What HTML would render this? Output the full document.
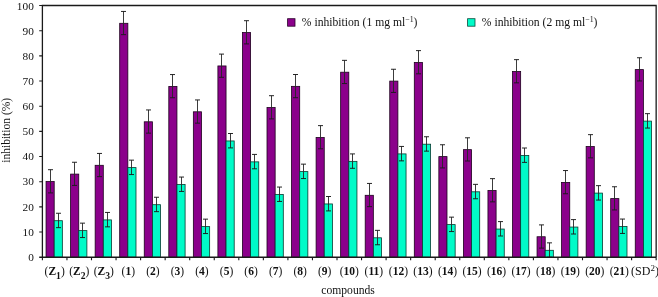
<!DOCTYPE html>
<html><head><meta charset="utf-8"><title>chart</title>
<style>
html,body{margin:0;padding:0;background:#fff}
svg{display:block;will-change:transform;opacity:0.999}
text{font-family:"Liberation Serif",serif;fill:#111}
</style></head><body>
<svg width="658" height="297" viewBox="0 0 658 297">
<rect width="658" height="297" fill="#fff"/>
<rect x="46.05" y="181.55" width="8.15" height="75.70" fill="#8b008b" stroke="#1c001c" stroke-width="0.8"/>
<rect x="54.20" y="220.70" width="8.15" height="36.55" fill="#00fbc8" stroke="#083a30" stroke-width="0.8"/>
<path d="M50.50 169.70V192.90" stroke="#262626" stroke-width="0.9" fill="none"/><path d="M48.00 169.70H53.00M48.00 192.90H53.00" stroke="#1a1a1a" stroke-width="0.95" fill="none"/>
<path d="M58.50 213.25V227.65" stroke="#262626" stroke-width="0.9" fill="none"/><path d="M56.00 213.25H61.00M56.00 227.65H61.00" stroke="#1a1a1a" stroke-width="0.95" fill="none"/>
<rect x="70.60" y="174.10" width="8.15" height="83.15" fill="#8b008b" stroke="#1c001c" stroke-width="0.8"/>
<rect x="78.75" y="230.60" width="8.15" height="26.65" fill="#00fbc8" stroke="#083a30" stroke-width="0.8"/>
<path d="M74.50 162.25V185.45" stroke="#262626" stroke-width="0.9" fill="none"/><path d="M72.00 162.25H77.00M72.00 185.45H77.00" stroke="#1a1a1a" stroke-width="0.95" fill="none"/>
<path d="M82.50 223.15V237.55" stroke="#262626" stroke-width="0.9" fill="none"/><path d="M80.00 223.15H85.00M80.00 237.55H85.00" stroke="#1a1a1a" stroke-width="0.95" fill="none"/>
<rect x="95.15" y="165.30" width="8.15" height="91.95" fill="#8b008b" stroke="#1c001c" stroke-width="0.8"/>
<rect x="103.30" y="219.90" width="8.15" height="37.35" fill="#00fbc8" stroke="#083a30" stroke-width="0.8"/>
<path d="M99.50 153.45V176.65" stroke="#262626" stroke-width="0.9" fill="none"/><path d="M97.00 153.45H102.00M97.00 176.65H102.00" stroke="#1a1a1a" stroke-width="0.95" fill="none"/>
<path d="M107.50 212.45V226.85" stroke="#262626" stroke-width="0.9" fill="none"/><path d="M105.00 212.45H110.00M105.00 226.85H110.00" stroke="#1a1a1a" stroke-width="0.95" fill="none"/>
<rect x="119.70" y="23.30" width="8.15" height="233.95" fill="#8b008b" stroke="#1c001c" stroke-width="0.8"/>
<rect x="127.85" y="167.60" width="8.15" height="89.65" fill="#00fbc8" stroke="#083a30" stroke-width="0.8"/>
<path d="M123.50 11.45V34.65" stroke="#262626" stroke-width="0.9" fill="none"/><path d="M121.00 11.45H126.00M121.00 34.65H126.00" stroke="#1a1a1a" stroke-width="0.95" fill="none"/>
<path d="M131.50 160.15V174.55" stroke="#262626" stroke-width="0.9" fill="none"/><path d="M129.00 160.15H134.00M129.00 174.55H134.00" stroke="#1a1a1a" stroke-width="0.95" fill="none"/>
<rect x="144.25" y="121.80" width="8.15" height="135.45" fill="#8b008b" stroke="#1c001c" stroke-width="0.8"/>
<rect x="152.40" y="204.70" width="8.15" height="52.55" fill="#00fbc8" stroke="#083a30" stroke-width="0.8"/>
<path d="M148.50 109.95V133.15" stroke="#262626" stroke-width="0.9" fill="none"/><path d="M146.00 109.95H151.00M146.00 133.15H151.00" stroke="#1a1a1a" stroke-width="0.95" fill="none"/>
<path d="M156.50 197.25V211.65" stroke="#262626" stroke-width="0.9" fill="none"/><path d="M154.00 197.25H159.00M154.00 211.65H159.00" stroke="#1a1a1a" stroke-width="0.95" fill="none"/>
<rect x="168.80" y="86.40" width="8.15" height="170.85" fill="#8b008b" stroke="#1c001c" stroke-width="0.8"/>
<rect x="176.95" y="184.50" width="8.15" height="72.75" fill="#00fbc8" stroke="#083a30" stroke-width="0.8"/>
<path d="M172.50 74.55V97.75" stroke="#262626" stroke-width="0.9" fill="none"/><path d="M170.00 74.55H175.00M170.00 97.75H175.00" stroke="#1a1a1a" stroke-width="0.95" fill="none"/>
<path d="M181.50 177.05V191.45" stroke="#262626" stroke-width="0.9" fill="none"/><path d="M179.00 177.05H184.00M179.00 191.45H184.00" stroke="#1a1a1a" stroke-width="0.95" fill="none"/>
<rect x="193.35" y="111.80" width="8.15" height="145.45" fill="#8b008b" stroke="#1c001c" stroke-width="0.8"/>
<rect x="201.50" y="226.60" width="8.15" height="30.65" fill="#00fbc8" stroke="#083a30" stroke-width="0.8"/>
<path d="M197.50 99.95V123.15" stroke="#262626" stroke-width="0.9" fill="none"/><path d="M195.00 99.95H200.00M195.00 123.15H200.00" stroke="#1a1a1a" stroke-width="0.95" fill="none"/>
<path d="M205.50 219.15V233.55" stroke="#262626" stroke-width="0.9" fill="none"/><path d="M203.00 219.15H208.00M203.00 233.55H208.00" stroke="#1a1a1a" stroke-width="0.95" fill="none"/>
<rect x="217.90" y="65.95" width="8.15" height="191.30" fill="#8b008b" stroke="#1c001c" stroke-width="0.8"/>
<rect x="226.05" y="140.95" width="8.15" height="116.30" fill="#00fbc8" stroke="#083a30" stroke-width="0.8"/>
<path d="M221.50 54.10V77.30" stroke="#262626" stroke-width="0.9" fill="none"/><path d="M219.00 54.10H224.00M219.00 77.30H224.00" stroke="#1a1a1a" stroke-width="0.95" fill="none"/>
<path d="M230.50 133.50V147.90" stroke="#262626" stroke-width="0.9" fill="none"/><path d="M228.00 133.50H233.00M228.00 147.90H233.00" stroke="#1a1a1a" stroke-width="0.95" fill="none"/>
<rect x="242.45" y="32.55" width="8.15" height="224.70" fill="#8b008b" stroke="#1c001c" stroke-width="0.8"/>
<rect x="250.60" y="161.86" width="8.15" height="95.39" fill="#00fbc8" stroke="#083a30" stroke-width="0.8"/>
<path d="M246.50 20.70V43.90" stroke="#262626" stroke-width="0.9" fill="none"/><path d="M244.00 20.70H249.00M244.00 43.90H249.00" stroke="#1a1a1a" stroke-width="0.95" fill="none"/>
<path d="M254.50 154.41V168.81" stroke="#262626" stroke-width="0.9" fill="none"/><path d="M252.00 154.41H257.00M252.00 168.81H257.00" stroke="#1a1a1a" stroke-width="0.95" fill="none"/>
<rect x="267.00" y="107.55" width="8.15" height="149.70" fill="#8b008b" stroke="#1c001c" stroke-width="0.8"/>
<rect x="275.15" y="194.50" width="8.15" height="62.75" fill="#00fbc8" stroke="#083a30" stroke-width="0.8"/>
<path d="M271.50 95.70V118.90" stroke="#262626" stroke-width="0.9" fill="none"/><path d="M269.00 95.70H274.00M269.00 118.90H274.00" stroke="#1a1a1a" stroke-width="0.95" fill="none"/>
<path d="M279.50 187.05V201.45" stroke="#262626" stroke-width="0.9" fill="none"/><path d="M277.00 187.05H282.00M277.00 201.45H282.00" stroke="#1a1a1a" stroke-width="0.95" fill="none"/>
<rect x="291.55" y="86.36" width="8.15" height="170.89" fill="#8b008b" stroke="#1c001c" stroke-width="0.8"/>
<rect x="299.70" y="171.60" width="8.15" height="85.65" fill="#00fbc8" stroke="#083a30" stroke-width="0.8"/>
<path d="M295.50 74.51V97.71" stroke="#262626" stroke-width="0.9" fill="none"/><path d="M293.00 74.51H298.00M293.00 97.71H298.00" stroke="#1a1a1a" stroke-width="0.95" fill="none"/>
<path d="M303.50 164.15V178.55" stroke="#262626" stroke-width="0.9" fill="none"/><path d="M301.00 164.15H306.00M301.00 178.55H306.00" stroke="#1a1a1a" stroke-width="0.95" fill="none"/>
<rect x="316.10" y="137.46" width="8.15" height="119.79" fill="#8b008b" stroke="#1c001c" stroke-width="0.8"/>
<rect x="324.25" y="203.95" width="8.15" height="53.30" fill="#00fbc8" stroke="#083a30" stroke-width="0.8"/>
<path d="M320.50 125.61V148.81" stroke="#262626" stroke-width="0.9" fill="none"/><path d="M318.00 125.61H323.00M318.00 148.81H323.00" stroke="#1a1a1a" stroke-width="0.95" fill="none"/>
<path d="M328.50 196.50V210.90" stroke="#262626" stroke-width="0.9" fill="none"/><path d="M326.00 196.50H331.00M326.00 210.90H331.00" stroke="#1a1a1a" stroke-width="0.95" fill="none"/>
<rect x="340.65" y="72.20" width="8.15" height="185.05" fill="#8b008b" stroke="#1c001c" stroke-width="0.8"/>
<rect x="348.80" y="161.36" width="8.15" height="95.89" fill="#00fbc8" stroke="#083a30" stroke-width="0.8"/>
<path d="M344.50 60.35V83.55" stroke="#262626" stroke-width="0.9" fill="none"/><path d="M342.00 60.35H347.00M342.00 83.55H347.00" stroke="#1a1a1a" stroke-width="0.95" fill="none"/>
<path d="M352.50 153.91V168.31" stroke="#262626" stroke-width="0.9" fill="none"/><path d="M350.00 153.91H355.00M350.00 168.31H355.00" stroke="#1a1a1a" stroke-width="0.95" fill="none"/>
<rect x="365.20" y="195.30" width="8.15" height="61.95" fill="#8b008b" stroke="#1c001c" stroke-width="0.8"/>
<rect x="373.35" y="237.80" width="8.15" height="19.45" fill="#00fbc8" stroke="#083a30" stroke-width="0.8"/>
<path d="M369.50 183.45V206.65" stroke="#262626" stroke-width="0.9" fill="none"/><path d="M367.00 183.45H372.00M367.00 206.65H372.00" stroke="#1a1a1a" stroke-width="0.95" fill="none"/>
<path d="M377.50 230.35V244.75" stroke="#262626" stroke-width="0.9" fill="none"/><path d="M375.00 230.35H380.00M375.00 244.75H380.00" stroke="#1a1a1a" stroke-width="0.95" fill="none"/>
<rect x="389.75" y="81.10" width="8.15" height="176.15" fill="#8b008b" stroke="#1c001c" stroke-width="0.8"/>
<rect x="397.90" y="153.90" width="8.15" height="103.35" fill="#00fbc8" stroke="#083a30" stroke-width="0.8"/>
<path d="M393.50 69.25V92.45" stroke="#262626" stroke-width="0.9" fill="none"/><path d="M391.00 69.25H396.00M391.00 92.45H396.00" stroke="#1a1a1a" stroke-width="0.95" fill="none"/>
<path d="M401.50 146.45V160.85" stroke="#262626" stroke-width="0.9" fill="none"/><path d="M399.00 146.45H404.00M399.00 160.85H404.00" stroke="#1a1a1a" stroke-width="0.95" fill="none"/>
<rect x="414.30" y="62.46" width="8.15" height="194.79" fill="#8b008b" stroke="#1c001c" stroke-width="0.8"/>
<rect x="422.45" y="144.20" width="8.15" height="113.05" fill="#00fbc8" stroke="#083a30" stroke-width="0.8"/>
<path d="M418.50 50.61V73.81" stroke="#262626" stroke-width="0.9" fill="none"/><path d="M416.00 50.61H421.00M416.00 73.81H421.00" stroke="#1a1a1a" stroke-width="0.95" fill="none"/>
<path d="M426.50 136.75V151.15" stroke="#262626" stroke-width="0.9" fill="none"/><path d="M424.00 136.75H429.00M424.00 151.15H429.00" stroke="#1a1a1a" stroke-width="0.95" fill="none"/>
<rect x="438.85" y="156.60" width="8.15" height="100.65" fill="#8b008b" stroke="#1c001c" stroke-width="0.8"/>
<rect x="447.00" y="224.60" width="8.15" height="32.65" fill="#00fbc8" stroke="#083a30" stroke-width="0.8"/>
<path d="M442.50 144.75V167.95" stroke="#262626" stroke-width="0.9" fill="none"/><path d="M440.00 144.75H445.00M440.00 167.95H445.00" stroke="#1a1a1a" stroke-width="0.95" fill="none"/>
<path d="M451.50 217.15V231.55" stroke="#262626" stroke-width="0.9" fill="none"/><path d="M449.00 217.15H454.00M449.00 231.55H454.00" stroke="#1a1a1a" stroke-width="0.95" fill="none"/>
<rect x="463.40" y="149.65" width="8.15" height="107.60" fill="#8b008b" stroke="#1c001c" stroke-width="0.8"/>
<rect x="471.55" y="191.80" width="8.15" height="65.45" fill="#00fbc8" stroke="#083a30" stroke-width="0.8"/>
<path d="M467.50 137.80V161.00" stroke="#262626" stroke-width="0.9" fill="none"/><path d="M465.00 137.80H470.00M465.00 161.00H470.00" stroke="#1a1a1a" stroke-width="0.95" fill="none"/>
<path d="M475.50 184.35V198.75" stroke="#262626" stroke-width="0.9" fill="none"/><path d="M473.00 184.35H478.00M473.00 198.75H478.00" stroke="#1a1a1a" stroke-width="0.95" fill="none"/>
<rect x="487.95" y="190.50" width="8.15" height="66.75" fill="#8b008b" stroke="#1c001c" stroke-width="0.8"/>
<rect x="496.10" y="229.05" width="8.15" height="28.20" fill="#00fbc8" stroke="#083a30" stroke-width="0.8"/>
<path d="M492.50 178.65V201.85" stroke="#262626" stroke-width="0.9" fill="none"/><path d="M490.00 178.65H495.00M490.00 201.85H495.00" stroke="#1a1a1a" stroke-width="0.95" fill="none"/>
<path d="M500.50 221.60V236.00" stroke="#262626" stroke-width="0.9" fill="none"/><path d="M498.00 221.60H503.00M498.00 236.00H503.00" stroke="#1a1a1a" stroke-width="0.95" fill="none"/>
<rect x="512.50" y="71.50" width="8.15" height="185.75" fill="#8b008b" stroke="#1c001c" stroke-width="0.8"/>
<rect x="520.65" y="155.45" width="8.15" height="101.80" fill="#00fbc8" stroke="#083a30" stroke-width="0.8"/>
<path d="M516.50 59.65V82.85" stroke="#262626" stroke-width="0.9" fill="none"/><path d="M514.00 59.65H519.00M514.00 82.85H519.00" stroke="#1a1a1a" stroke-width="0.95" fill="none"/>
<path d="M524.50 148.00V162.40" stroke="#262626" stroke-width="0.9" fill="none"/><path d="M522.00 148.00H527.00M522.00 162.40H527.00" stroke="#1a1a1a" stroke-width="0.95" fill="none"/>
<rect x="537.05" y="236.75" width="8.15" height="20.50" fill="#8b008b" stroke="#1c001c" stroke-width="0.8"/>
<rect x="545.20" y="250.30" width="8.15" height="6.95" fill="#00fbc8" stroke="#083a30" stroke-width="0.8"/>
<path d="M541.50 224.90V248.10" stroke="#262626" stroke-width="0.9" fill="none"/><path d="M539.00 224.90H544.00M539.00 248.10H544.00" stroke="#1a1a1a" stroke-width="0.95" fill="none"/>
<path d="M549.50 242.85V257.25" stroke="#262626" stroke-width="0.9" fill="none"/><path d="M547.00 242.85H552.00M547.00 257.25H552.00" stroke="#1a1a1a" stroke-width="0.95" fill="none"/>
<rect x="561.60" y="182.40" width="8.15" height="74.85" fill="#8b008b" stroke="#1c001c" stroke-width="0.8"/>
<rect x="569.75" y="227.05" width="8.15" height="30.20" fill="#00fbc8" stroke="#083a30" stroke-width="0.8"/>
<path d="M565.50 170.55V193.75" stroke="#262626" stroke-width="0.9" fill="none"/><path d="M563.00 170.55H568.00M563.00 193.75H568.00" stroke="#1a1a1a" stroke-width="0.95" fill="none"/>
<path d="M573.50 219.60V234.00" stroke="#262626" stroke-width="0.9" fill="none"/><path d="M571.00 219.60H576.00M571.00 234.00H576.00" stroke="#1a1a1a" stroke-width="0.95" fill="none"/>
<rect x="586.15" y="146.50" width="8.15" height="110.75" fill="#8b008b" stroke="#1c001c" stroke-width="0.8"/>
<rect x="594.30" y="193.10" width="8.15" height="64.15" fill="#00fbc8" stroke="#083a30" stroke-width="0.8"/>
<path d="M590.50 134.65V157.85" stroke="#262626" stroke-width="0.9" fill="none"/><path d="M588.00 134.65H593.00M588.00 157.85H593.00" stroke="#1a1a1a" stroke-width="0.95" fill="none"/>
<path d="M598.50 185.65V200.05" stroke="#262626" stroke-width="0.9" fill="none"/><path d="M596.00 185.65H601.00M596.00 200.05H601.00" stroke="#1a1a1a" stroke-width="0.95" fill="none"/>
<rect x="610.70" y="198.60" width="8.15" height="58.65" fill="#8b008b" stroke="#1c001c" stroke-width="0.8"/>
<rect x="618.85" y="226.50" width="8.15" height="30.75" fill="#00fbc8" stroke="#083a30" stroke-width="0.8"/>
<path d="M614.50 186.75V209.95" stroke="#262626" stroke-width="0.9" fill="none"/><path d="M612.00 186.75H617.00M612.00 209.95H617.00" stroke="#1a1a1a" stroke-width="0.95" fill="none"/>
<path d="M622.50 219.05V233.45" stroke="#262626" stroke-width="0.9" fill="none"/><path d="M620.00 219.05H625.00M620.00 233.45H625.00" stroke="#1a1a1a" stroke-width="0.95" fill="none"/>
<rect x="635.25" y="69.60" width="8.15" height="187.65" fill="#8b008b" stroke="#1c001c" stroke-width="0.8"/>
<rect x="643.40" y="121.10" width="8.15" height="136.15" fill="#00fbc8" stroke="#083a30" stroke-width="0.8"/>
<path d="M639.50 57.75V80.95" stroke="#262626" stroke-width="0.9" fill="none"/><path d="M637.00 57.75H642.00M637.00 80.95H642.00" stroke="#1a1a1a" stroke-width="0.95" fill="none"/>
<path d="M647.50 113.65V128.05" stroke="#262626" stroke-width="0.9" fill="none"/><path d="M645.00 113.65H650.00M645.00 128.05H650.00" stroke="#1a1a1a" stroke-width="0.95" fill="none"/>
<path d="M42.4 257.25V5.5H656.15V257.25" stroke="#1a1a1a" stroke-width="1.3" fill="none"/>
<path d="M39.199999999999996 257.25H656.15" stroke="#1a1a1a" stroke-width="1.3" fill="none"/>
<path d="M39.199999999999996 232.07H42.4M39.199999999999996 206.90H42.4M39.199999999999996 181.72H42.4M39.199999999999996 156.55H42.4M39.199999999999996 131.38H42.4M39.199999999999996 106.20H42.4M39.199999999999996 81.03H42.4M39.199999999999996 55.85H42.4M39.199999999999996 30.68H42.4M39.199999999999996 5.50H42.4" stroke="#1a1a1a" stroke-width="1.1" fill="none"/>
<path d="M42.40 257.25V260.25M66.95 257.25V260.25M91.50 257.25V260.25M116.05 257.25V260.25M140.60 257.25V260.25M165.15 257.25V260.25M189.70 257.25V260.25M214.25 257.25V260.25M238.80 257.25V260.25M263.35 257.25V260.25M287.90 257.25V260.25M312.45 257.25V260.25M337.00 257.25V260.25M361.55 257.25V260.25M386.10 257.25V260.25M410.65 257.25V260.25M435.20 257.25V260.25M459.75 257.25V260.25M484.30 257.25V260.25M508.85 257.25V260.25M533.40 257.25V260.25M557.95 257.25V260.25M582.50 257.25V260.25M607.05 257.25V260.25M631.60 257.25V260.25M656.15 257.25V260.25" stroke="#1a1a1a" stroke-width="1.1" fill="none"/>
<text x="33.8" y="260.75" font-size="11.3" text-anchor="end">0</text>
<text x="33.8" y="235.64" font-size="11.3" text-anchor="end">10</text>
<text x="33.8" y="210.53" font-size="11.3" text-anchor="end">20</text>
<text x="33.8" y="185.42" font-size="11.3" text-anchor="end">30</text>
<text x="33.8" y="160.31" font-size="11.3" text-anchor="end">40</text>
<text x="33.8" y="135.20" font-size="11.3" text-anchor="end">50</text>
<text x="33.8" y="110.09" font-size="11.3" text-anchor="end">60</text>
<text x="33.8" y="84.98" font-size="11.3" text-anchor="end">70</text>
<text x="33.8" y="59.87" font-size="11.3" text-anchor="end">80</text>
<text x="33.8" y="34.76" font-size="11.3" text-anchor="end">90</text>
<text x="33.8" y="9.65" font-size="11.3" text-anchor="end">100</text>
<text x="54.67" y="275.2" font-size="11.5" text-anchor="middle">(<tspan font-weight="bold">Z</tspan><tspan font-weight="bold" font-size="9.6" dy="3.5">1</tspan><tspan dy="-3.5">)</tspan></text>
<text x="79.22" y="275.2" font-size="11.5" text-anchor="middle">(<tspan font-weight="bold">Z</tspan><tspan font-weight="bold" font-size="9.6" dy="3.5">2</tspan><tspan dy="-3.5">)</tspan></text>
<text x="103.78" y="275.2" font-size="11.5" text-anchor="middle">(<tspan font-weight="bold">Z</tspan><tspan font-weight="bold" font-size="9.6" dy="3.5">3</tspan><tspan dy="-3.5">)</tspan></text>
<text x="128.32" y="275.2" font-size="11.5" text-anchor="middle">(<tspan font-weight="bold">1</tspan>)</text>
<text x="152.88" y="275.2" font-size="11.5" text-anchor="middle">(<tspan font-weight="bold">2</tspan>)</text>
<text x="177.43" y="275.2" font-size="11.5" text-anchor="middle">(<tspan font-weight="bold">3</tspan>)</text>
<text x="201.98" y="275.2" font-size="11.5" text-anchor="middle">(<tspan font-weight="bold">4</tspan>)</text>
<text x="226.53" y="275.2" font-size="11.5" text-anchor="middle">(<tspan font-weight="bold">5</tspan>)</text>
<text x="251.08" y="275.2" font-size="11.5" text-anchor="middle">(<tspan font-weight="bold">6</tspan>)</text>
<text x="275.62" y="275.2" font-size="11.5" text-anchor="middle">(<tspan font-weight="bold">7</tspan>)</text>
<text x="300.18" y="275.2" font-size="11.5" text-anchor="middle">(<tspan font-weight="bold">8</tspan>)</text>
<text x="324.72" y="275.2" font-size="11.5" text-anchor="middle">(<tspan font-weight="bold">9</tspan>)</text>
<text x="349.27" y="275.2" font-size="11.5" text-anchor="middle">(<tspan font-weight="bold">10</tspan>)</text>
<text x="373.82" y="275.2" font-size="11.5" text-anchor="middle">(<tspan font-weight="bold">11</tspan>)</text>
<text x="398.38" y="275.2" font-size="11.5" text-anchor="middle">(<tspan font-weight="bold">12</tspan>)</text>
<text x="422.93" y="275.2" font-size="11.5" text-anchor="middle">(<tspan font-weight="bold">13</tspan>)</text>
<text x="447.47" y="275.2" font-size="11.5" text-anchor="middle">(<tspan font-weight="bold">14</tspan>)</text>
<text x="472.02" y="275.2" font-size="11.5" text-anchor="middle">(<tspan font-weight="bold">15</tspan>)</text>
<text x="496.57" y="275.2" font-size="11.5" text-anchor="middle">(<tspan font-weight="bold">16</tspan>)</text>
<text x="521.12" y="275.2" font-size="11.5" text-anchor="middle">(<tspan font-weight="bold">17</tspan>)</text>
<text x="545.68" y="275.2" font-size="11.5" text-anchor="middle">(<tspan font-weight="bold">18</tspan>)</text>
<text x="570.23" y="275.2" font-size="11.5" text-anchor="middle">(<tspan font-weight="bold">19</tspan>)</text>
<text x="594.77" y="275.2" font-size="11.5" text-anchor="middle">(<tspan font-weight="bold">20</tspan>)</text>
<text x="619.33" y="275.2" font-size="11.5" text-anchor="middle">(<tspan font-weight="bold">21</tspan>)</text>
<text x="631.1" y="275.3" font-size="12">(SD<tspan font-size="9" dy="-4.2">2</tspan><tspan dy="4.2">)</tspan></text>
<text x="348.1" y="294.2" font-size="11.6" text-anchor="middle">compounds</text>
<text transform="translate(9.9 130.3) rotate(-90)" font-size="11.5" text-anchor="middle">inhibition (%)</text>
<rect x="287.6" y="18.7" width="7.4" height="7.5" fill="#8b008b" stroke="#2a002a" stroke-width="0.8"/>
<text x="301.8" y="26.3" font-size="11.65">% inhibition (1 mg ml<tspan font-size="7.8" dy="-4.1">−1</tspan><tspan dy="4.1">)</tspan></text>
<rect x="467.6" y="18.7" width="7.4" height="7.5" fill="#00fbc8" stroke="#0a4a3c" stroke-width="0.8"/>
<text x="481.8" y="26.3" font-size="11.65">% inhibition (2 mg ml<tspan font-size="7.8" dy="-4.1">−1</tspan><tspan dy="4.1">)</tspan></text>
</svg></body></html>
